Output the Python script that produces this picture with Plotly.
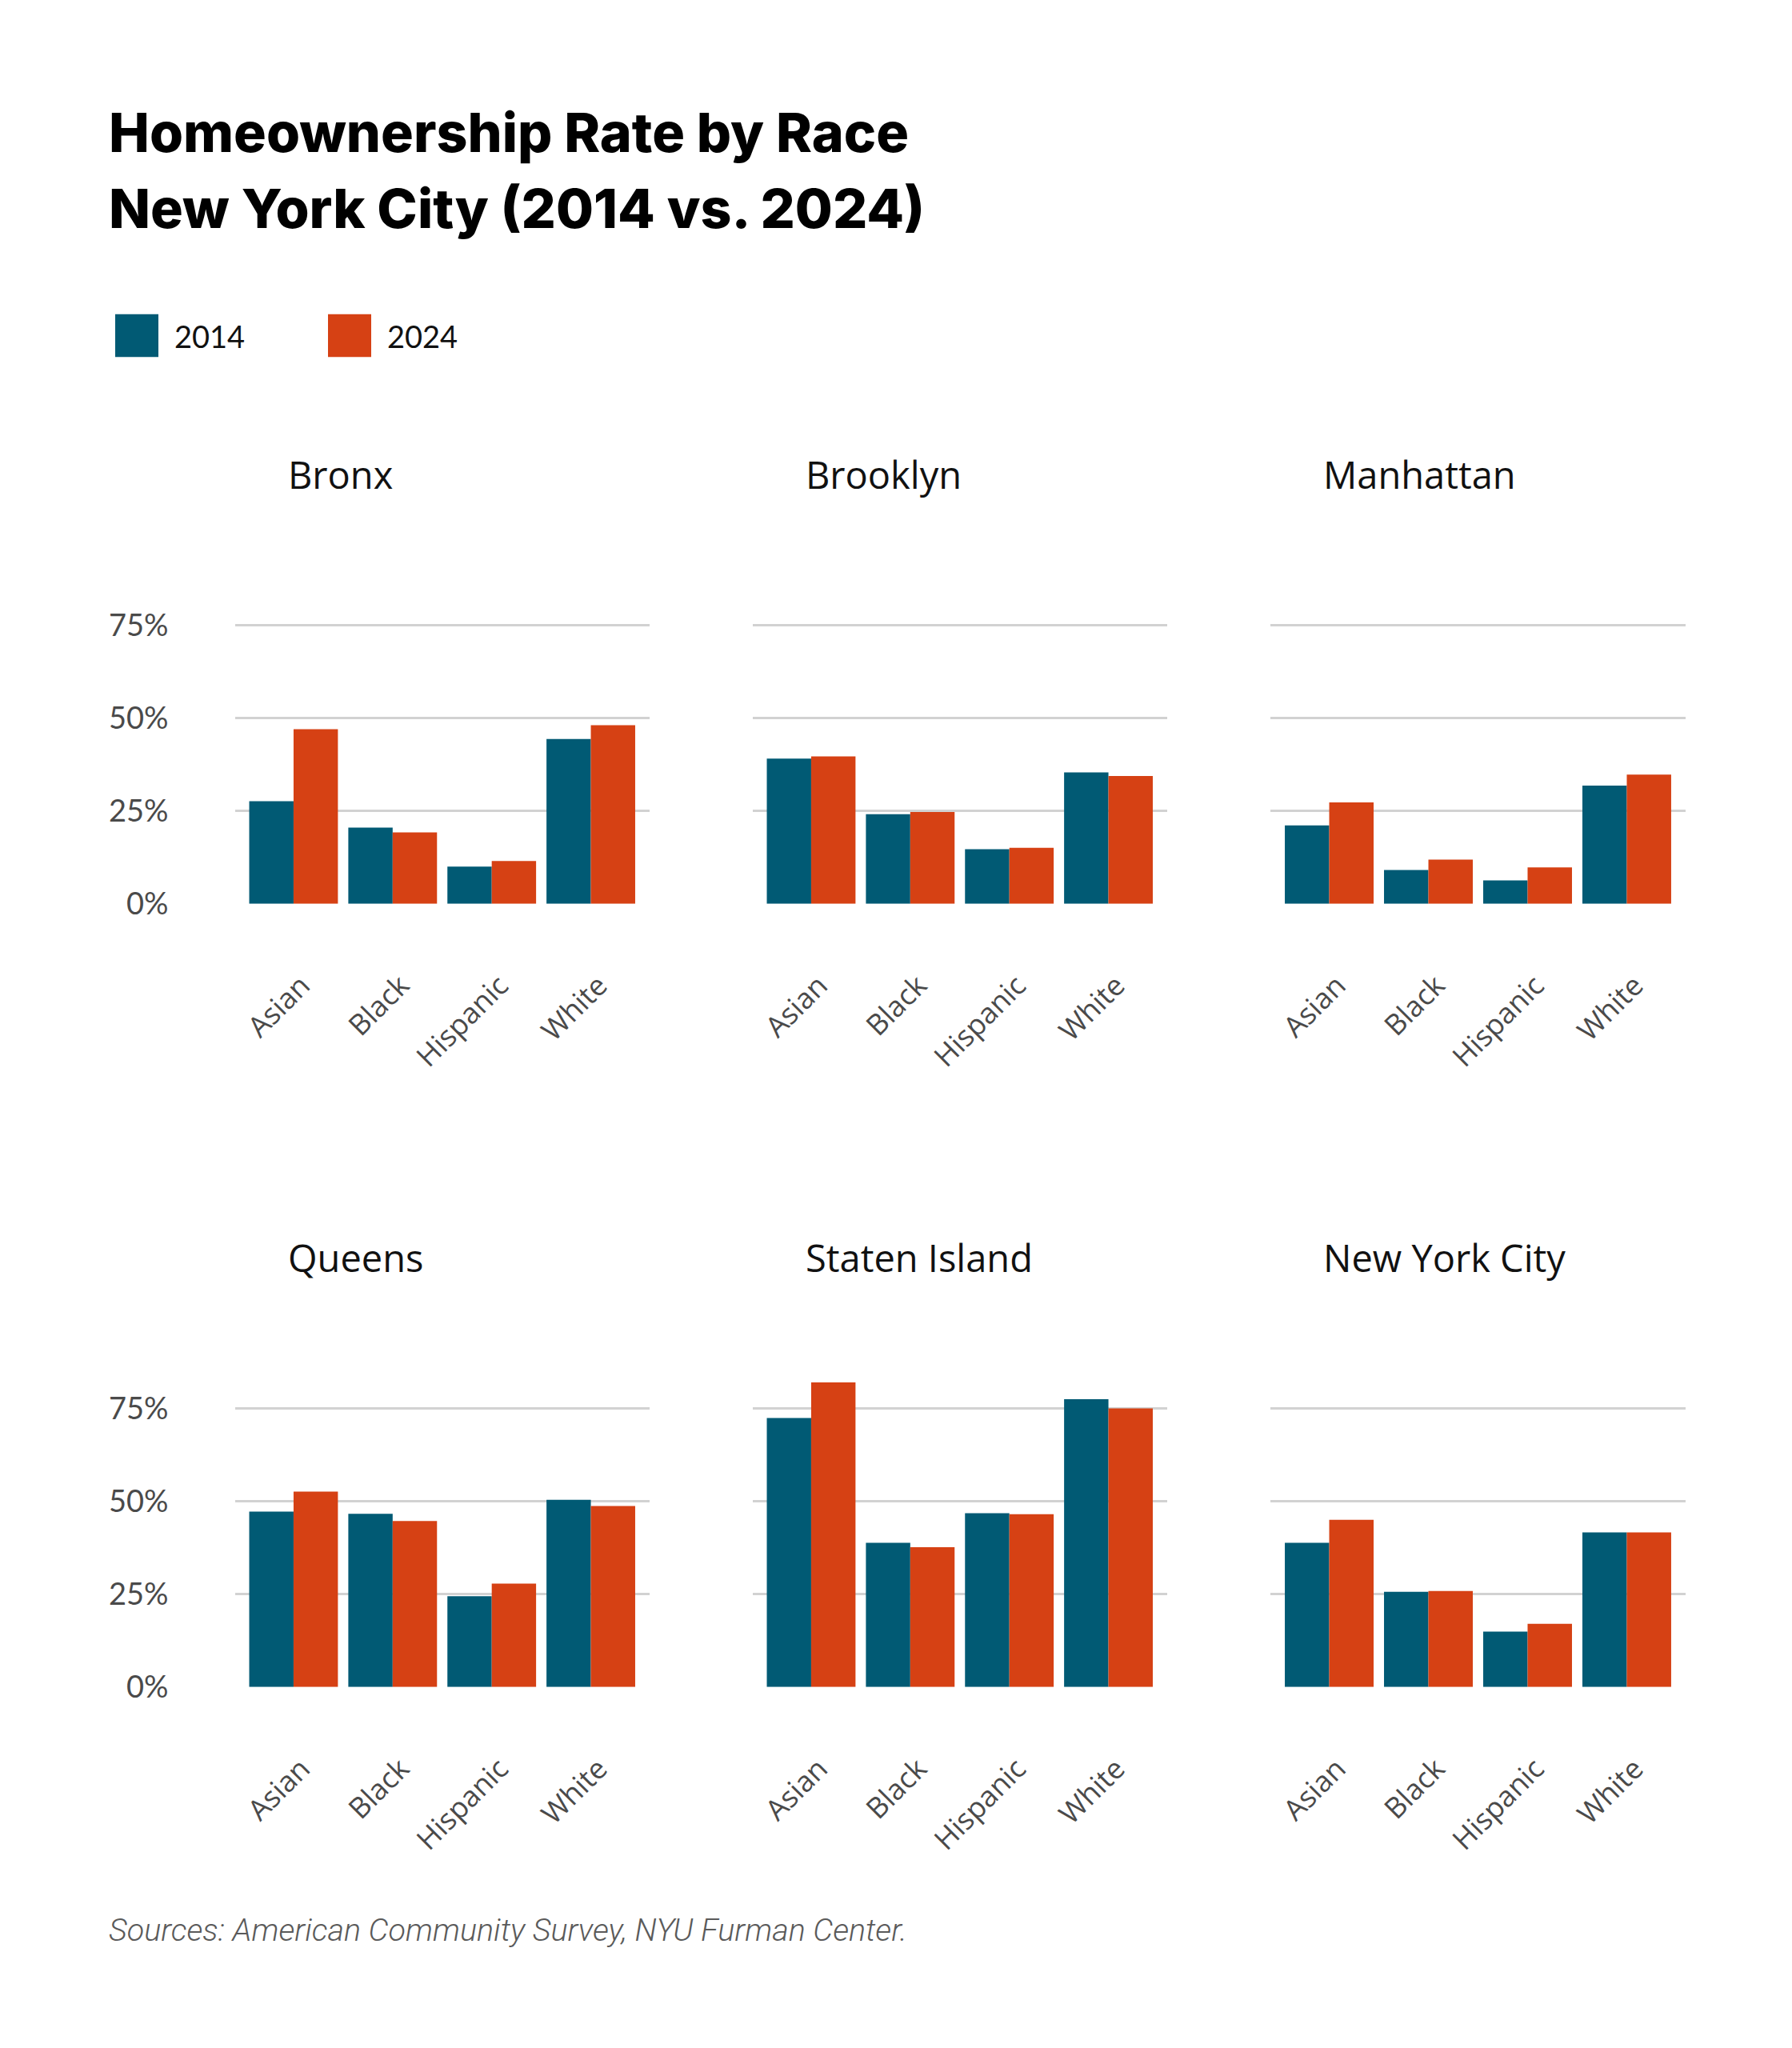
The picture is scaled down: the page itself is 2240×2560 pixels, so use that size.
import plotly.graph_objects as go
from plotly.subplots import make_subplots

# chart data (homeownership rate, %)
regions = ["Bronx", "Brooklyn", "Manhattan", "Queens", "Staten Island", "New York City"]
races = ["Asian", "Black", "Hispanic", "White"]
years = ["2014", "2024"]

bronx_2014 = [27.6, 20.5, 10.0, 44.4]
bronx_2024 = [47.0, 19.2, 11.5, 48.1]
brooklyn_2014 = [39.1, 24.1, 14.7, 35.4]
brooklyn_2024 = [39.7, 24.7, 15.1, 34.4]
manhattan_2014 = [21.1, 9.1, 6.3, 31.8]
manhattan_2024 = [27.3, 11.9, 9.8, 34.8]
queens_2014 = [47.2, 46.6, 24.4, 50.4]
queens_2024 = [52.6, 44.7, 27.8, 48.7]
staten_2014 = [72.4, 38.8, 46.8, 77.5]
staten_2024 = [82.0, 37.6, 46.5, 75.0]
nyc_2014 = [38.8, 25.6, 14.9, 41.6]
nyc_2024 = [45.0, 25.8, 17.0, 41.6]

y_ticks = [0, 25, 50, 75]
y_tick_labels = ["0%", "25%", "50%", "75%"]

series_2014 = [bronx_2014, brooklyn_2014, manhattan_2014, queens_2014, staten_2014, nyc_2014]
series_2024 = [bronx_2024, brooklyn_2024, manhattan_2024, queens_2024, staten_2024, nyc_2024]

colors = {"2014": "#015a74", "2024": "#d64114"}

W, H = 2240, 2560
OFF_X, OFF_Y = 8, 0
col_px = [(293.5, 812), (940.5, 1459), (1588, 2107)]
row_zero_px = [1131, 2118]
px_per_pct = 117 / 25
y_max = 85


def px(x):
    return (x - OFF_X) / W


def py(y):
    return 1 - (y - OFF_Y) / H


fig = make_subplots(rows=2, cols=3)

for i, region in enumerate(regions):
    r, c = i // 3 + 1, i % 3 + 1
    for yr, vals in zip(years, [series_2014[i], series_2024[i]]):
        fig.add_trace(
            go.Bar(x=races, y=vals, name=yr, marker_color=colors[yr],
                   marker_line_width=0, showlegend=False,
                   hovertemplate="%{x}: %{y:.1f}%<extra>" + yr + "</extra>"),
            row=r, col=c,
        )

annotations = []
for i, region in enumerate(regions):
    r, c = i // 3, i % 3
    n = i + 1
    x0, x1 = col_px[c]
    y0 = row_zero_px[r]
    y1 = y0 - y_max * px_per_pct
    xa = "xaxis" if n == 1 else f"xaxis{n}"
    ya = "yaxis" if n == 1 else f"yaxis{n}"
    fig.layout[xa].update(
        domain=[px(x0), px(x1)], type="category", range=[-0.593, 3.593],
        showgrid=False, zeroline=False, showline=False, ticks="",
        tickangle=-45, ticklabelstandoff=73, ticklabelshift=10,
        tickfont=dict(family="Open Sans", size=36, color="#4a4a4a"),
    )
    fig.layout[ya].update(
        domain=[py(y0), py(y1)], range=[0, y_max],
        tickvals=y_ticks, ticktext=y_tick_labels, showticklabels=(c == 0),
        showgrid=True, gridcolor="#d2d2d2", gridwidth=3,
        zeroline=False, showline=False, ticks="", ticklabelstandoff=82,
        tickfont=dict(family="Lato", size=38, color="#4a4a4a"),
    )
    annotations.append(dict(
        text=region, xref="paper", yref="paper",
        x=px(x0 + 64), y=py(590 + r * 987),
        xanchor="left", yanchor="middle", showarrow=False,
        font=dict(family="Open Sans", size=47, color="#111111"),
    ))

# title
for line, yc in [("Homeownership Rate by Race", 158), ("New York City (2014 vs. 2024)", 254)]:
    annotations.append(dict(
        text=line, xref="paper", yref="paper", x=px(134), y=py(yc),
        xanchor="left", yanchor="middle", showarrow=False,
        font=dict(family="Inter", size=68, color="#000000", weight=800),
    ))

# legend
shapes = []
for yr, sx, tx in [("2014", 144, 216), ("2024", 410, 482)]:
    shapes.append(dict(type="rect", xref="paper", yref="paper",
                       x0=px(sx), x1=px(sx + 54), y0=py(442), y1=py(388),
                       fillcolor=colors[yr], line_width=0))
    annotations.append(dict(
        text=yr, xref="paper", yref="paper", x=px(tx), y=py(415),
        xanchor="left", yanchor="middle", showarrow=False,
        font=dict(family="Lato", size=38, color="#111111"),
    ))

# source
annotations.append(dict(
    text="<i>Sources: American Community Survey, NYU Furman Center.</i>",
    xref="paper", yref="paper", x=px(134), y=py(2424),
    xanchor="left", yanchor="middle", showarrow=False,
    font=dict(family="Roboto", size=39.5, color="#5a5a5a", weight=300),
))

fig.update_layout(
    width=W, height=H, margin=dict(l=0, r=0, t=0, b=0),
    paper_bgcolor="white", plot_bgcolor="white",
    barmode="group", bargap=0.105, bargroupgap=0,
    showlegend=False, annotations=annotations, shapes=shapes,
)

fig.write_html("out.html")
